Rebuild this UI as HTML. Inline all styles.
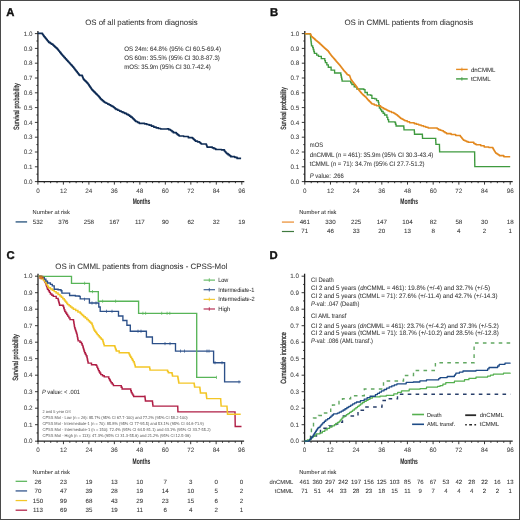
<!DOCTYPE html><html><head><meta charset="utf-8"><style>html,body{margin:0;padding:0;background:#fff;}svg{display:block;will-change:transform;} text{stroke-width:0.05px;text-rendering:geometricPrecision;}</style></head><body>
<svg width="520" height="520" viewBox="0 0 520 520" font-family='"Liberation Sans", sans-serif'>
<rect x="0" y="0" width="520" height="520" fill="#fff"/>
<text x="6.25" y="16.0" font-size="11.3" text-anchor="start" fill="#111" stroke="#111" font-weight="bold" style="stroke-width:0.35px">A</text>
<text x="85.2" y="25.2" font-size="7.8" text-anchor="start" fill="#333" stroke="#333" textLength="112.5" lengthAdjust="spacingAndGlyphs">OS of all patients from diagnosis</text>
<line x1="37.9" y1="31.1" x2="37.9" y2="182.1" stroke="#222" stroke-width="1.3"/>
<line x1="37.4" y1="181.6" x2="244.3" y2="181.6" stroke="#222" stroke-width="1.3"/>
<line x1="34.9" y1="181.60" x2="37.9" y2="181.60" stroke="#222" stroke-width="0.9"/>
<line x1="36.4" y1="174.20" x2="37.9" y2="174.20" stroke="#222" stroke-width="0.9"/>
<text x="32.4" y="183.79999999999998" font-size="6.3" text-anchor="end" fill="#444" stroke="#444">0.0</text>
<line x1="34.9" y1="166.80" x2="37.9" y2="166.80" stroke="#222" stroke-width="0.9"/>
<line x1="36.4" y1="159.40" x2="37.9" y2="159.40" stroke="#222" stroke-width="0.9"/>
<text x="32.4" y="168.99999999999997" font-size="6.3" text-anchor="end" fill="#444" stroke="#444">0.1</text>
<line x1="34.9" y1="152.00" x2="37.9" y2="152.00" stroke="#222" stroke-width="0.9"/>
<line x1="36.4" y1="144.60" x2="37.9" y2="144.60" stroke="#222" stroke-width="0.9"/>
<text x="32.4" y="154.2" font-size="6.3" text-anchor="end" fill="#444" stroke="#444">0.2</text>
<line x1="34.9" y1="137.20" x2="37.9" y2="137.20" stroke="#222" stroke-width="0.9"/>
<line x1="36.4" y1="129.80" x2="37.9" y2="129.80" stroke="#222" stroke-width="0.9"/>
<text x="32.4" y="139.39999999999998" font-size="6.3" text-anchor="end" fill="#444" stroke="#444">0.3</text>
<line x1="34.9" y1="122.40" x2="37.9" y2="122.40" stroke="#222" stroke-width="0.9"/>
<line x1="36.4" y1="115.00" x2="37.9" y2="115.00" stroke="#222" stroke-width="0.9"/>
<text x="32.4" y="124.6" font-size="6.3" text-anchor="end" fill="#444" stroke="#444">0.4</text>
<line x1="34.9" y1="107.60" x2="37.9" y2="107.60" stroke="#222" stroke-width="0.9"/>
<line x1="36.4" y1="100.20" x2="37.9" y2="100.20" stroke="#222" stroke-width="0.9"/>
<text x="32.4" y="109.8" font-size="6.3" text-anchor="end" fill="#444" stroke="#444">0.5</text>
<line x1="34.9" y1="92.80" x2="37.9" y2="92.80" stroke="#222" stroke-width="0.9"/>
<line x1="36.4" y1="85.40" x2="37.9" y2="85.40" stroke="#222" stroke-width="0.9"/>
<text x="32.4" y="94.99999999999999" font-size="6.3" text-anchor="end" fill="#444" stroke="#444">0.6</text>
<line x1="34.9" y1="78.00" x2="37.9" y2="78.00" stroke="#222" stroke-width="0.9"/>
<line x1="36.4" y1="70.60" x2="37.9" y2="70.60" stroke="#222" stroke-width="0.9"/>
<text x="32.4" y="80.19999999999999" font-size="6.3" text-anchor="end" fill="#444" stroke="#444">0.7</text>
<line x1="34.9" y1="63.20" x2="37.9" y2="63.20" stroke="#222" stroke-width="0.9"/>
<line x1="36.4" y1="55.80" x2="37.9" y2="55.80" stroke="#222" stroke-width="0.9"/>
<text x="32.4" y="65.39999999999999" font-size="6.3" text-anchor="end" fill="#444" stroke="#444">0.8</text>
<line x1="34.9" y1="48.40" x2="37.9" y2="48.40" stroke="#222" stroke-width="0.9"/>
<line x1="36.4" y1="41.00" x2="37.9" y2="41.00" stroke="#222" stroke-width="0.9"/>
<text x="32.4" y="50.59999999999998" font-size="6.3" text-anchor="end" fill="#444" stroke="#444">0.9</text>
<line x1="34.9" y1="33.60" x2="37.9" y2="33.60" stroke="#222" stroke-width="0.9"/>
<text x="32.4" y="35.8" font-size="6.3" text-anchor="end" fill="#444" stroke="#444">1.0</text>
<line x1="37.90" y1="181.6" x2="37.90" y2="184.6" stroke="#222" stroke-width="0.9"/>
<text x="37.9" y="192.6" font-size="6.3" text-anchor="middle" fill="#444" stroke="#444">0</text>
<line x1="44.27" y1="181.6" x2="44.27" y2="183.2" stroke="#222" stroke-width="0.9"/>
<line x1="50.64" y1="181.6" x2="50.64" y2="183.2" stroke="#222" stroke-width="0.9"/>
<line x1="57.02" y1="181.6" x2="57.02" y2="183.2" stroke="#222" stroke-width="0.9"/>
<line x1="63.39" y1="181.6" x2="63.39" y2="184.6" stroke="#222" stroke-width="0.9"/>
<text x="63.39" y="192.6" font-size="6.3" text-anchor="middle" fill="#444" stroke="#444">12</text>
<line x1="69.76" y1="181.6" x2="69.76" y2="183.2" stroke="#222" stroke-width="0.9"/>
<line x1="76.13" y1="181.6" x2="76.13" y2="183.2" stroke="#222" stroke-width="0.9"/>
<line x1="82.50" y1="181.6" x2="82.50" y2="183.2" stroke="#222" stroke-width="0.9"/>
<line x1="88.88" y1="181.6" x2="88.88" y2="184.6" stroke="#222" stroke-width="0.9"/>
<text x="88.88" y="192.6" font-size="6.3" text-anchor="middle" fill="#444" stroke="#444">24</text>
<line x1="95.25" y1="181.6" x2="95.25" y2="183.2" stroke="#222" stroke-width="0.9"/>
<line x1="101.62" y1="181.6" x2="101.62" y2="183.2" stroke="#222" stroke-width="0.9"/>
<line x1="107.99" y1="181.6" x2="107.99" y2="183.2" stroke="#222" stroke-width="0.9"/>
<line x1="114.36" y1="181.6" x2="114.36" y2="184.6" stroke="#222" stroke-width="0.9"/>
<text x="114.36" y="192.6" font-size="6.3" text-anchor="middle" fill="#444" stroke="#444">36</text>
<line x1="120.73" y1="181.6" x2="120.73" y2="183.2" stroke="#222" stroke-width="0.9"/>
<line x1="127.11" y1="181.6" x2="127.11" y2="183.2" stroke="#222" stroke-width="0.9"/>
<line x1="133.48" y1="181.6" x2="133.48" y2="183.2" stroke="#222" stroke-width="0.9"/>
<line x1="139.85" y1="181.6" x2="139.85" y2="184.6" stroke="#222" stroke-width="0.9"/>
<text x="139.85" y="192.6" font-size="6.3" text-anchor="middle" fill="#444" stroke="#444">48</text>
<line x1="146.22" y1="181.6" x2="146.22" y2="183.2" stroke="#222" stroke-width="0.9"/>
<line x1="152.59" y1="181.6" x2="152.59" y2="183.2" stroke="#222" stroke-width="0.9"/>
<line x1="158.97" y1="181.6" x2="158.97" y2="183.2" stroke="#222" stroke-width="0.9"/>
<line x1="165.34" y1="181.6" x2="165.34" y2="184.6" stroke="#222" stroke-width="0.9"/>
<text x="165.34" y="192.6" font-size="6.3" text-anchor="middle" fill="#444" stroke="#444">60</text>
<line x1="171.71" y1="181.6" x2="171.71" y2="183.2" stroke="#222" stroke-width="0.9"/>
<line x1="178.08" y1="181.6" x2="178.08" y2="183.2" stroke="#222" stroke-width="0.9"/>
<line x1="184.45" y1="181.6" x2="184.45" y2="183.2" stroke="#222" stroke-width="0.9"/>
<line x1="190.83" y1="181.6" x2="190.83" y2="184.6" stroke="#222" stroke-width="0.9"/>
<text x="190.83" y="192.6" font-size="6.3" text-anchor="middle" fill="#444" stroke="#444">72</text>
<line x1="197.20" y1="181.6" x2="197.20" y2="183.2" stroke="#222" stroke-width="0.9"/>
<line x1="203.57" y1="181.6" x2="203.57" y2="183.2" stroke="#222" stroke-width="0.9"/>
<line x1="209.94" y1="181.6" x2="209.94" y2="183.2" stroke="#222" stroke-width="0.9"/>
<line x1="216.31" y1="181.6" x2="216.31" y2="184.6" stroke="#222" stroke-width="0.9"/>
<text x="216.31" y="192.6" font-size="6.3" text-anchor="middle" fill="#444" stroke="#444">84</text>
<line x1="222.68" y1="181.6" x2="222.68" y2="183.2" stroke="#222" stroke-width="0.9"/>
<line x1="229.06" y1="181.6" x2="229.06" y2="183.2" stroke="#222" stroke-width="0.9"/>
<line x1="235.43" y1="181.6" x2="235.43" y2="183.2" stroke="#222" stroke-width="0.9"/>
<line x1="241.80" y1="181.6" x2="241.80" y2="184.6" stroke="#222" stroke-width="0.9"/>
<text x="241.8" y="192.6" font-size="6.3" text-anchor="middle" fill="#444" stroke="#444">96</text>
<text x="141.45" y="204.2" font-size="8.0" text-anchor="middle" fill="#2a2a2a" stroke="#2a2a2a" font-weight="bold" textLength="17.6" lengthAdjust="spacingAndGlyphs">Months</text>
<text transform="translate(18.6,106.6) rotate(-90)" font-size="7.6" text-anchor="middle" fill="#333" stroke="#333" style="stroke-width:0.3px" textLength="46.7" lengthAdjust="spacingAndGlyphs">Survival probability</text>
<text x="124.2" y="50.5" font-size="6.5" text-anchor="start" fill="#333" stroke="#333" textLength="96.8" lengthAdjust="spacingAndGlyphs">OS 24m: 64.8% (95% CI 60.5-69.4)</text>
<text x="124.2" y="60.0" font-size="6.5" text-anchor="start" fill="#333" stroke="#333" textLength="95.6" lengthAdjust="spacingAndGlyphs">OS 60m: 35.5% (95% CI 30.8-87.3)</text>
<text x="124.2" y="69.3" font-size="6.5" text-anchor="start" fill="#333" stroke="#333" textLength="86.7" lengthAdjust="spacingAndGlyphs">mOS: 35.9m (95% CI 30.7-42.4)</text>
<path d="M37.90,33.40 H42.50 V34.30 H43.07 V35.10 H43.63 V35.90 H44.20 V36.70 H44.97 V37.65 H45.73 V38.60 H46.50 V39.55 H47.27 V40.50 H48.03 V41.45 H48.80 V42.40 H50.17 V43.30 H51.53 V44.20 H52.90 V45.10 H53.82 V45.94 H54.74 V46.78 H55.66 V47.62 H56.58 V48.46 H57.50 V49.30 H58.27 V50.27 H59.03 V51.23 H59.80 V52.20 H60.57 V53.17 H61.33 V54.13 H62.10 V55.10 H62.89 V55.96 H63.68 V56.83 H64.46 V57.69 H65.25 V58.55 H66.04 V59.41 H66.83 V60.27 H67.61 V61.14 H68.40 V62.00 H69.18 V62.87 H69.97 V63.73 H70.75 V64.60 H71.53 V65.47 H72.32 V66.33 H73.10 V67.20 H73.80 V68.10 H74.50 V69.00 H75.20 V69.90 H75.90 V70.80 H76.60 V71.70 H77.30 V72.60 H78.00 V73.50 H78.70 V74.40 H79.40 V75.30 H82.30 V76.40 H82.67 V77.37 H83.03 V78.33 H83.40 V79.30 H84.32 V80.24 H85.24 V81.18 H86.16 V82.12 H87.08 V83.06 H88.00 V84.00 H88.65 V84.97 H89.30 V85.93 H89.95 V86.90 H90.60 V87.87 H91.25 V88.83 H91.90 V89.80 H92.78 V90.67 H93.65 V91.55 H94.53 V92.42 H95.40 V93.30 H96.25 V94.15 H97.10 V95.00 H97.95 V95.85 H98.80 V96.70 H99.57 V97.67 H100.33 V98.63 H101.10 V99.60 H102.27 V100.57 H103.43 V101.53 H104.60 V102.50 H106.13 V103.27 H107.67 V104.03 H109.20 V104.80 H110.57 V105.57 H111.93 V106.33 H113.30 V107.10 H114.23 V107.87 H115.17 V108.63 H116.10 V109.40 H117.85 V110.25 H119.60 V111.10 H121.33 V111.87 H123.07 V112.63 H124.80 V113.40 H126.55 V114.30 H128.30 V115.20 H129.63 V116.17 H130.97 V117.13 H132.30 V118.10 H133.18 V118.95 H134.05 V119.80 H134.93 V120.65 H135.80 V121.50 H137.50 V122.40 H139.20 V123.30 H144.60 V123.80 H146.90 V124.50 H149.20 V125.20 H151.50 V126.15 H153.80 V127.10 H156.15 V127.80 H158.50 V128.50 H160.80 V129.00 H167.10 V128.80 H168.85 V129.65 H170.60 V130.50 H172.00 V131.60 H173.40 V132.70 H176.30 V133.60 H177.27 V134.40 H178.23 V135.20 H179.20 V136.00 H183.80 V136.50 H188.40 V137.70 H192.50 V138.30 H193.47 V139.23 H194.43 V140.17 H195.40 V141.10 H197.50 V141.80 H199.60 V142.50 H200.45 V143.25 H201.30 V144.00 H206.00 H206.37 V145.03 H206.73 V146.07 H207.10 V147.10 H212.30 V147.80 H214.05 V148.65 H215.80 V149.50 H221.50 V149.80 H224.40 V151.00 H225.17 V151.87 H225.93 V152.73 H226.70 V153.60 H228.07 V154.63 H229.43 V155.67 H230.80 V156.70 H234.80 V157.30 H237.10 V158.40 H241.10" fill="none" stroke="#0f2c55" stroke-width="1.7" stroke-linejoin="round"/>
<text x="32.6" y="214.2" font-size="5.7" text-anchor="start" fill="#333" stroke="#333" textLength="37.2" lengthAdjust="spacingAndGlyphs">Number at risk</text>
<line x1="15.6" y1="221.9" x2="27.1" y2="221.9" stroke="#4d7194" stroke-width="1.6"/>
<text x="37.9" y="224.0" font-size="6.2" text-anchor="middle" fill="#333" stroke="#333">532</text>
<text x="63.39" y="224.0" font-size="6.2" text-anchor="middle" fill="#333" stroke="#333">376</text>
<text x="88.88" y="224.0" font-size="6.2" text-anchor="middle" fill="#333" stroke="#333">258</text>
<text x="114.36" y="224.0" font-size="6.2" text-anchor="middle" fill="#333" stroke="#333">167</text>
<text x="139.85" y="224.0" font-size="6.2" text-anchor="middle" fill="#333" stroke="#333">117</text>
<text x="165.34" y="224.0" font-size="6.2" text-anchor="middle" fill="#333" stroke="#333">90</text>
<text x="190.83" y="224.0" font-size="6.2" text-anchor="middle" fill="#333" stroke="#333">62</text>
<text x="216.31" y="224.0" font-size="6.2" text-anchor="middle" fill="#333" stroke="#333">32</text>
<text x="241.8" y="224.0" font-size="6.2" text-anchor="middle" fill="#333" stroke="#333">19</text>
<text x="270.05" y="15.799999999999999" font-size="11.3" text-anchor="start" fill="#111" stroke="#111" font-weight="bold" style="stroke-width:0.35px">B</text>
<text x="344.4" y="25.4" font-size="7.8" text-anchor="start" fill="#333" stroke="#333" textLength="128.8" lengthAdjust="spacingAndGlyphs">OS in CMML patients from diagnosis</text>
<line x1="304.8" y1="31.1" x2="304.8" y2="182.1" stroke="#222" stroke-width="1.3"/>
<line x1="304.3" y1="181.6" x2="512.7" y2="181.6" stroke="#222" stroke-width="1.3"/>
<line x1="301.8" y1="181.60" x2="304.8" y2="181.60" stroke="#222" stroke-width="0.9"/>
<line x1="303.3" y1="174.20" x2="304.8" y2="174.20" stroke="#222" stroke-width="0.9"/>
<text x="299.3" y="183.79999999999998" font-size="6.3" text-anchor="end" fill="#444" stroke="#444">0.0</text>
<line x1="301.8" y1="166.80" x2="304.8" y2="166.80" stroke="#222" stroke-width="0.9"/>
<line x1="303.3" y1="159.40" x2="304.8" y2="159.40" stroke="#222" stroke-width="0.9"/>
<text x="299.3" y="168.99999999999997" font-size="6.3" text-anchor="end" fill="#444" stroke="#444">0.1</text>
<line x1="301.8" y1="152.00" x2="304.8" y2="152.00" stroke="#222" stroke-width="0.9"/>
<line x1="303.3" y1="144.60" x2="304.8" y2="144.60" stroke="#222" stroke-width="0.9"/>
<text x="299.3" y="154.2" font-size="6.3" text-anchor="end" fill="#444" stroke="#444">0.2</text>
<line x1="301.8" y1="137.20" x2="304.8" y2="137.20" stroke="#222" stroke-width="0.9"/>
<line x1="303.3" y1="129.80" x2="304.8" y2="129.80" stroke="#222" stroke-width="0.9"/>
<text x="299.3" y="139.39999999999998" font-size="6.3" text-anchor="end" fill="#444" stroke="#444">0.3</text>
<line x1="301.8" y1="122.40" x2="304.8" y2="122.40" stroke="#222" stroke-width="0.9"/>
<line x1="303.3" y1="115.00" x2="304.8" y2="115.00" stroke="#222" stroke-width="0.9"/>
<text x="299.3" y="124.6" font-size="6.3" text-anchor="end" fill="#444" stroke="#444">0.4</text>
<line x1="301.8" y1="107.60" x2="304.8" y2="107.60" stroke="#222" stroke-width="0.9"/>
<line x1="303.3" y1="100.20" x2="304.8" y2="100.20" stroke="#222" stroke-width="0.9"/>
<text x="299.3" y="109.8" font-size="6.3" text-anchor="end" fill="#444" stroke="#444">0.5</text>
<line x1="301.8" y1="92.80" x2="304.8" y2="92.80" stroke="#222" stroke-width="0.9"/>
<line x1="303.3" y1="85.40" x2="304.8" y2="85.40" stroke="#222" stroke-width="0.9"/>
<text x="299.3" y="94.99999999999999" font-size="6.3" text-anchor="end" fill="#444" stroke="#444">0.6</text>
<line x1="301.8" y1="78.00" x2="304.8" y2="78.00" stroke="#222" stroke-width="0.9"/>
<line x1="303.3" y1="70.60" x2="304.8" y2="70.60" stroke="#222" stroke-width="0.9"/>
<text x="299.3" y="80.19999999999999" font-size="6.3" text-anchor="end" fill="#444" stroke="#444">0.7</text>
<line x1="301.8" y1="63.20" x2="304.8" y2="63.20" stroke="#222" stroke-width="0.9"/>
<line x1="303.3" y1="55.80" x2="304.8" y2="55.80" stroke="#222" stroke-width="0.9"/>
<text x="299.3" y="65.39999999999999" font-size="6.3" text-anchor="end" fill="#444" stroke="#444">0.8</text>
<line x1="301.8" y1="48.40" x2="304.8" y2="48.40" stroke="#222" stroke-width="0.9"/>
<line x1="303.3" y1="41.00" x2="304.8" y2="41.00" stroke="#222" stroke-width="0.9"/>
<text x="299.3" y="50.59999999999998" font-size="6.3" text-anchor="end" fill="#444" stroke="#444">0.9</text>
<line x1="301.8" y1="33.60" x2="304.8" y2="33.60" stroke="#222" stroke-width="0.9"/>
<text x="299.3" y="35.8" font-size="6.3" text-anchor="end" fill="#444" stroke="#444">1.0</text>
<line x1="304.80" y1="181.6" x2="304.80" y2="184.6" stroke="#222" stroke-width="0.9"/>
<text x="304.8" y="192.6" font-size="6.3" text-anchor="middle" fill="#444" stroke="#444">0</text>
<line x1="311.22" y1="181.6" x2="311.22" y2="183.2" stroke="#222" stroke-width="0.9"/>
<line x1="317.64" y1="181.6" x2="317.64" y2="183.2" stroke="#222" stroke-width="0.9"/>
<line x1="324.06" y1="181.6" x2="324.06" y2="183.2" stroke="#222" stroke-width="0.9"/>
<line x1="330.48" y1="181.6" x2="330.48" y2="184.6" stroke="#222" stroke-width="0.9"/>
<text x="330.48" y="192.6" font-size="6.3" text-anchor="middle" fill="#444" stroke="#444">12</text>
<line x1="336.89" y1="181.6" x2="336.89" y2="183.2" stroke="#222" stroke-width="0.9"/>
<line x1="343.31" y1="181.6" x2="343.31" y2="183.2" stroke="#222" stroke-width="0.9"/>
<line x1="349.73" y1="181.6" x2="349.73" y2="183.2" stroke="#222" stroke-width="0.9"/>
<line x1="356.15" y1="181.6" x2="356.15" y2="184.6" stroke="#222" stroke-width="0.9"/>
<text x="356.15" y="192.6" font-size="6.3" text-anchor="middle" fill="#444" stroke="#444">24</text>
<line x1="362.57" y1="181.6" x2="362.57" y2="183.2" stroke="#222" stroke-width="0.9"/>
<line x1="368.99" y1="181.6" x2="368.99" y2="183.2" stroke="#222" stroke-width="0.9"/>
<line x1="375.41" y1="181.6" x2="375.41" y2="183.2" stroke="#222" stroke-width="0.9"/>
<line x1="381.82" y1="181.6" x2="381.82" y2="184.6" stroke="#222" stroke-width="0.9"/>
<text x="381.82" y="192.6" font-size="6.3" text-anchor="middle" fill="#444" stroke="#444">36</text>
<line x1="388.24" y1="181.6" x2="388.24" y2="183.2" stroke="#222" stroke-width="0.9"/>
<line x1="394.66" y1="181.6" x2="394.66" y2="183.2" stroke="#222" stroke-width="0.9"/>
<line x1="401.08" y1="181.6" x2="401.08" y2="183.2" stroke="#222" stroke-width="0.9"/>
<line x1="407.50" y1="181.6" x2="407.50" y2="184.6" stroke="#222" stroke-width="0.9"/>
<text x="407.5" y="192.6" font-size="6.3" text-anchor="middle" fill="#444" stroke="#444">48</text>
<line x1="413.92" y1="181.6" x2="413.92" y2="183.2" stroke="#222" stroke-width="0.9"/>
<line x1="420.34" y1="181.6" x2="420.34" y2="183.2" stroke="#222" stroke-width="0.9"/>
<line x1="426.76" y1="181.6" x2="426.76" y2="183.2" stroke="#222" stroke-width="0.9"/>
<line x1="433.18" y1="181.6" x2="433.18" y2="184.6" stroke="#222" stroke-width="0.9"/>
<text x="433.18" y="192.6" font-size="6.3" text-anchor="middle" fill="#444" stroke="#444">60</text>
<line x1="439.59" y1="181.6" x2="439.59" y2="183.2" stroke="#222" stroke-width="0.9"/>
<line x1="446.01" y1="181.6" x2="446.01" y2="183.2" stroke="#222" stroke-width="0.9"/>
<line x1="452.43" y1="181.6" x2="452.43" y2="183.2" stroke="#222" stroke-width="0.9"/>
<line x1="458.85" y1="181.6" x2="458.85" y2="184.6" stroke="#222" stroke-width="0.9"/>
<text x="458.85" y="192.6" font-size="6.3" text-anchor="middle" fill="#444" stroke="#444">72</text>
<line x1="465.27" y1="181.6" x2="465.27" y2="183.2" stroke="#222" stroke-width="0.9"/>
<line x1="471.69" y1="181.6" x2="471.69" y2="183.2" stroke="#222" stroke-width="0.9"/>
<line x1="478.11" y1="181.6" x2="478.11" y2="183.2" stroke="#222" stroke-width="0.9"/>
<line x1="484.52" y1="181.6" x2="484.52" y2="184.6" stroke="#222" stroke-width="0.9"/>
<text x="484.52" y="192.6" font-size="6.3" text-anchor="middle" fill="#444" stroke="#444">84</text>
<line x1="490.94" y1="181.6" x2="490.94" y2="183.2" stroke="#222" stroke-width="0.9"/>
<line x1="497.36" y1="181.6" x2="497.36" y2="183.2" stroke="#222" stroke-width="0.9"/>
<line x1="503.78" y1="181.6" x2="503.78" y2="183.2" stroke="#222" stroke-width="0.9"/>
<line x1="510.20" y1="181.6" x2="510.20" y2="184.6" stroke="#222" stroke-width="0.9"/>
<text x="510.2" y="192.6" font-size="6.3" text-anchor="middle" fill="#444" stroke="#444">96</text>
<text x="409.1" y="204.2" font-size="8.0" text-anchor="middle" fill="#2a2a2a" stroke="#2a2a2a" font-weight="bold" textLength="17.6" lengthAdjust="spacingAndGlyphs">Months</text>
<text transform="translate(285.6,108.5) rotate(-90)" font-size="7.6" text-anchor="middle" fill="#333" stroke="#333" style="stroke-width:0.3px" textLength="42.3" lengthAdjust="spacingAndGlyphs">Survival probability</text>
<path d="M304.80,33.80 H310.40 V34.50 H310.50 V36.15 H310.60 V37.80 H310.83 V39.82 H311.05 V41.85 H311.27 V43.88 H311.50 V45.90 H312.70 V47.60 H313.27 V49.53 H313.83 V51.47 H314.40 V53.40 H316.70 V55.10 H318.50 V56.30 H321.30 V58.60 H324.20 H324.80 V60.60 H325.40 V62.60 H326.85 V64.90 H328.30 V67.20 H331.10 V70.10 H334.60 V73.00 H340.40 H340.82 V75.03 H341.25 V77.05 H341.68 V79.07 H342.10 V81.10 H349.60 H350.75 V82.80 H351.90 V84.50 H354.20 V86.80 H356.30 V87.30 H356.90 V89.00 H363.80 V89.60 H365.00 V92.50 H367.30 V94.80 H370.80 V95.40 H371.90 V98.30 H374.80 V98.80 H376.55 V100.55 H378.30 V102.30 H378.80 V104.60 H379.10 V106.35 H379.40 V108.10 H380.55 V109.80 H381.70 V111.50 H383.15 V113.25 H384.60 V115.00 H386.90 V117.30 H387.75 V119.60 H388.60 V121.90 H395.00 V122.50 H395.55 V124.25 H396.10 V126.00 H403.60 H403.80 V127.90 H404.00 V129.80 H414.20 H414.35 V132.00 H414.50 V134.20 H422.30 H422.40 V136.25 H422.50 V138.30 H435.60 H435.70 V140.30 H435.80 V142.30 H435.90 V144.30 H439.40 H439.45 V146.18 H439.50 V148.05 H439.55 V149.93 H439.60 V151.80 H474.60 H474.63 V153.91 H474.66 V156.03 H474.69 V158.14 H474.71 V160.26 H474.74 V162.37 H474.77 V164.49 H474.80 V166.60 H510.20" fill="none" stroke="#3f9a3f" stroke-width="1.35"/>
<path d="M304.80,33.80 H310.40 V34.30 H310.77 V35.10 H311.13 V35.90 H311.50 V36.70 H312.42 V37.50 H313.34 V38.30 H314.26 V39.10 H315.18 V39.90 H316.10 V40.70 H317.04 V41.50 H317.98 V42.30 H318.92 V43.10 H319.86 V43.90 H320.80 V44.70 H321.60 V45.46 H322.40 V46.22 H323.20 V46.98 H324.00 V47.74 H324.80 V48.50 H325.68 V49.27 H326.55 V50.05 H327.43 V50.83 H328.30 V51.60 H328.87 V52.38 H329.43 V53.17 H330.00 V53.95 H330.57 V54.73 H331.13 V55.52 H331.70 V56.30 H332.38 V57.07 H333.07 V57.83 H333.75 V58.60 H334.43 V59.37 H335.12 V60.13 H335.80 V60.90 H336.47 V61.67 H337.13 V62.43 H337.80 V63.20 H338.47 V63.97 H339.13 V64.73 H339.80 V65.50 H340.37 V66.24 H340.94 V66.99 H341.51 V67.73 H342.09 V68.47 H342.66 V69.21 H343.23 V69.96 H343.80 V70.70 H344.50 V71.50 H345.20 V72.30 H345.90 V73.10 H346.60 V73.90 H347.30 V74.70 H348.45 V75.30 H349.60 V75.90 H349.88 V76.75 H350.15 V77.60 H350.43 V78.45 H350.70 V79.30 H351.23 V80.03 H351.77 V80.77 H352.30 V81.50 H352.88 V82.27 H353.47 V83.03 H354.05 V83.80 H354.63 V84.57 H355.22 V85.33 H355.80 V86.10 H356.37 V86.88 H356.93 V87.67 H357.50 V88.45 H358.07 V89.23 H358.63 V90.02 H359.20 V90.80 H359.90 V91.60 H360.60 V92.40 H361.30 V93.20 H362.00 V94.00 H362.70 V94.80 H363.55 V95.53 H364.40 V96.25 H365.25 V96.97 H366.10 V97.70 H366.70 V98.42 H367.30 V99.15 H367.90 V99.88 H368.50 V100.60 H369.35 V101.45 H370.20 V102.30 H371.05 V103.15 H371.90 V104.00 H374.20 V104.90 H376.50 V105.80 H380.60 V106.90 H382.00 V107.75 H383.40 V108.60 H384.85 V109.32 H386.30 V110.05 H387.75 V110.78 H389.20 V111.50 H391.50 V112.40 H393.80 V113.30 H394.97 V114.07 H396.13 V114.83 H397.30 V115.60 H398.15 V116.30 H399.00 V117.00 H399.85 V117.70 H400.70 V118.40 H402.07 V119.17 H403.43 V119.93 H404.80 V120.70 H407.20 V121.70 H409.60 V122.70 H414.20 V123.60 H416.50 V124.30 H418.80 V125.00 H421.15 V125.75 H423.50 V126.50 H425.80 V127.20 H428.10 V127.90 H436.10 H437.25 V128.75 H438.40 V129.60 H440.15 V130.20 H441.90 V130.80 H443.43 V131.73 H444.97 V132.67 H446.50 V133.60 H451.10 V134.50 H455.70 V135.40 H460.40 V136.50 H461.02 V137.24 H461.64 V137.98 H462.26 V138.72 H462.88 V139.46 H463.50 V140.20 H465.03 V140.90 H466.57 V141.60 H468.10 V142.30 H473.80 V143.40 H474.95 V144.10 H476.10 V144.80 H480.80 V145.80 H484.20 V146.90 H488.80 V147.50 H492.90 V148.60 H493.38 V149.38 H493.87 V150.17 H494.35 V150.95 H494.83 V151.73 H495.32 V152.52 H495.80 V153.30 H496.93 V154.07 H498.07 V154.83 H499.20 V155.60 H503.80 V156.70 H510.20" fill="none" stroke="#e3891f" stroke-width="1.55" stroke-linejoin="round"/>
<line x1="456.1" y1="69.4" x2="467.7" y2="69.4" stroke="#e68a1f" stroke-width="1.4"/><line x1="461.9" y1="67.6" x2="461.9" y2="71.2" stroke="#e68a1f" stroke-width="0.8"/>
<line x1="456.1" y1="78.9" x2="467.7" y2="78.9" stroke="#3f9a3f" stroke-width="1.4"/><line x1="461.9" y1="77.1" x2="461.9" y2="80.7" stroke="#3f9a3f" stroke-width="0.8"/>
<text x="470.9" y="71.7" font-size="6.1" text-anchor="start" fill="#333" stroke="#333" textLength="24.5" lengthAdjust="spacingAndGlyphs">dnCMML</text>
<text x="470.9" y="81.1" font-size="6.1" text-anchor="start" fill="#333" stroke="#333" textLength="19.8" lengthAdjust="spacingAndGlyphs">tCMML</text>
<text x="309.8" y="147.4" font-size="6.5" text-anchor="start" fill="#333" stroke="#333" textLength="13.3" lengthAdjust="spacingAndGlyphs">mOS</text>
<text x="309.8" y="157.1" font-size="6.5" fill="#333" stroke="#333" textLength="123.5" lengthAdjust="spacingAndGlyphs">dnCMML (<tspan font-style="italic">n</tspan> = 461): 35.9m (95% CI 30.3-43.4)</text>
<text x="309.8" y="165.8" font-size="6.5" fill="#333" stroke="#333" textLength="114.8" lengthAdjust="spacingAndGlyphs">tCMML (<tspan font-style="italic">n</tspan> = 71): 34.7m (95% CI 27.7-51.2)</text>
<text x="309.8" y="178.4" font-size="6.5" fill="#333" stroke="#333" textLength="34" lengthAdjust="spacingAndGlyphs"><tspan font-style="italic">P</tspan> value: .266</text>
<text x="299.2" y="214.2" font-size="5.7" text-anchor="start" fill="#333" stroke="#333" textLength="37.2" lengthAdjust="spacingAndGlyphs">Number at risk</text>
<line x1="281.9" y1="222.1" x2="294" y2="222.1" stroke="#f0a860" stroke-width="1.6"/>
<line x1="281.9" y1="231.5" x2="294" y2="231.5" stroke="#3f7a3f" stroke-width="1.2"/>
<text x="304.8" y="224.1" font-size="6.2" text-anchor="middle" fill="#333" stroke="#333">461</text>
<text x="304.8" y="233.4" font-size="6.2" text-anchor="middle" fill="#333" stroke="#333">71</text>
<text x="330.48" y="224.1" font-size="6.2" text-anchor="middle" fill="#333" stroke="#333">330</text>
<text x="330.48" y="233.4" font-size="6.2" text-anchor="middle" fill="#333" stroke="#333">46</text>
<text x="356.15" y="224.1" font-size="6.2" text-anchor="middle" fill="#333" stroke="#333">225</text>
<text x="356.15" y="233.4" font-size="6.2" text-anchor="middle" fill="#333" stroke="#333">33</text>
<text x="381.82" y="224.1" font-size="6.2" text-anchor="middle" fill="#333" stroke="#333">147</text>
<text x="381.82" y="233.4" font-size="6.2" text-anchor="middle" fill="#333" stroke="#333">20</text>
<text x="407.5" y="224.1" font-size="6.2" text-anchor="middle" fill="#333" stroke="#333">104</text>
<text x="407.5" y="233.4" font-size="6.2" text-anchor="middle" fill="#333" stroke="#333">13</text>
<text x="433.18" y="224.1" font-size="6.2" text-anchor="middle" fill="#333" stroke="#333">82</text>
<text x="433.18" y="233.4" font-size="6.2" text-anchor="middle" fill="#333" stroke="#333">8</text>
<text x="458.85" y="224.1" font-size="6.2" text-anchor="middle" fill="#333" stroke="#333">58</text>
<text x="458.85" y="233.4" font-size="6.2" text-anchor="middle" fill="#333" stroke="#333">4</text>
<text x="484.52" y="224.1" font-size="6.2" text-anchor="middle" fill="#333" stroke="#333">30</text>
<text x="484.52" y="233.4" font-size="6.2" text-anchor="middle" fill="#333" stroke="#333">2</text>
<text x="510.2" y="224.1" font-size="6.2" text-anchor="middle" fill="#333" stroke="#333">18</text>
<text x="510.2" y="233.4" font-size="6.2" text-anchor="middle" fill="#333" stroke="#333">1</text>
<text x="6.449999999999999" y="259.0" font-size="11.3" text-anchor="start" fill="#111" stroke="#111" font-weight="bold" style="stroke-width:0.35px">C</text>
<text x="55.3" y="268.5" font-size="7.8" text-anchor="start" fill="#333" stroke="#333" textLength="172" lengthAdjust="spacingAndGlyphs">OS in CMML patients from diagnosis - CPSS-Mol</text>
<line x1="38.0" y1="273.7" x2="38.0" y2="441.7" stroke="#222" stroke-width="1.3"/>
<line x1="37.5" y1="441.2" x2="244.1" y2="441.2" stroke="#222" stroke-width="1.3"/>
<line x1="35.0" y1="441.20" x2="38.0" y2="441.20" stroke="#222" stroke-width="0.9"/>
<line x1="36.5" y1="432.95" x2="38.0" y2="432.95" stroke="#222" stroke-width="0.9"/>
<text x="32.5" y="443.4" font-size="6.3" text-anchor="end" fill="#444" stroke="#444">0.0</text>
<line x1="35.0" y1="424.70" x2="38.0" y2="424.70" stroke="#222" stroke-width="0.9"/>
<line x1="36.5" y1="416.45" x2="38.0" y2="416.45" stroke="#222" stroke-width="0.9"/>
<text x="32.5" y="426.9" font-size="6.3" text-anchor="end" fill="#444" stroke="#444">0.1</text>
<line x1="35.0" y1="408.20" x2="38.0" y2="408.20" stroke="#222" stroke-width="0.9"/>
<line x1="36.5" y1="399.95" x2="38.0" y2="399.95" stroke="#222" stroke-width="0.9"/>
<text x="32.5" y="410.4" font-size="6.3" text-anchor="end" fill="#444" stroke="#444">0.2</text>
<line x1="35.0" y1="391.70" x2="38.0" y2="391.70" stroke="#222" stroke-width="0.9"/>
<line x1="36.5" y1="383.45" x2="38.0" y2="383.45" stroke="#222" stroke-width="0.9"/>
<text x="32.5" y="393.9" font-size="6.3" text-anchor="end" fill="#444" stroke="#444">0.3</text>
<line x1="35.0" y1="375.20" x2="38.0" y2="375.20" stroke="#222" stroke-width="0.9"/>
<line x1="36.5" y1="366.95" x2="38.0" y2="366.95" stroke="#222" stroke-width="0.9"/>
<text x="32.5" y="377.4" font-size="6.3" text-anchor="end" fill="#444" stroke="#444">0.4</text>
<line x1="35.0" y1="358.70" x2="38.0" y2="358.70" stroke="#222" stroke-width="0.9"/>
<line x1="36.5" y1="350.45" x2="38.0" y2="350.45" stroke="#222" stroke-width="0.9"/>
<text x="32.5" y="360.9" font-size="6.3" text-anchor="end" fill="#444" stroke="#444">0.5</text>
<line x1="35.0" y1="342.20" x2="38.0" y2="342.20" stroke="#222" stroke-width="0.9"/>
<line x1="36.5" y1="333.95" x2="38.0" y2="333.95" stroke="#222" stroke-width="0.9"/>
<text x="32.5" y="344.4" font-size="6.3" text-anchor="end" fill="#444" stroke="#444">0.6</text>
<line x1="35.0" y1="325.70" x2="38.0" y2="325.70" stroke="#222" stroke-width="0.9"/>
<line x1="36.5" y1="317.45" x2="38.0" y2="317.45" stroke="#222" stroke-width="0.9"/>
<text x="32.5" y="327.9" font-size="6.3" text-anchor="end" fill="#444" stroke="#444">0.7</text>
<line x1="35.0" y1="309.20" x2="38.0" y2="309.20" stroke="#222" stroke-width="0.9"/>
<line x1="36.5" y1="300.95" x2="38.0" y2="300.95" stroke="#222" stroke-width="0.9"/>
<text x="32.5" y="311.4" font-size="6.3" text-anchor="end" fill="#444" stroke="#444">0.8</text>
<line x1="35.0" y1="292.70" x2="38.0" y2="292.70" stroke="#222" stroke-width="0.9"/>
<line x1="36.5" y1="284.45" x2="38.0" y2="284.45" stroke="#222" stroke-width="0.9"/>
<text x="32.5" y="294.9" font-size="6.3" text-anchor="end" fill="#444" stroke="#444">0.9</text>
<line x1="35.0" y1="276.20" x2="38.0" y2="276.20" stroke="#222" stroke-width="0.9"/>
<text x="32.5" y="278.4" font-size="6.3" text-anchor="end" fill="#444" stroke="#444">1.0</text>
<line x1="38.00" y1="441.2" x2="38.00" y2="444.2" stroke="#222" stroke-width="0.9"/>
<text x="38.0" y="452.2" font-size="6.3" text-anchor="middle" fill="#444" stroke="#444">0</text>
<line x1="44.36" y1="441.2" x2="44.36" y2="442.8" stroke="#222" stroke-width="0.9"/>
<line x1="50.73" y1="441.2" x2="50.73" y2="442.8" stroke="#222" stroke-width="0.9"/>
<line x1="57.09" y1="441.2" x2="57.09" y2="442.8" stroke="#222" stroke-width="0.9"/>
<line x1="63.45" y1="441.2" x2="63.45" y2="444.2" stroke="#222" stroke-width="0.9"/>
<text x="63.45" y="452.2" font-size="6.3" text-anchor="middle" fill="#444" stroke="#444">12</text>
<line x1="69.81" y1="441.2" x2="69.81" y2="442.8" stroke="#222" stroke-width="0.9"/>
<line x1="76.17" y1="441.2" x2="76.17" y2="442.8" stroke="#222" stroke-width="0.9"/>
<line x1="82.54" y1="441.2" x2="82.54" y2="442.8" stroke="#222" stroke-width="0.9"/>
<line x1="88.90" y1="441.2" x2="88.90" y2="444.2" stroke="#222" stroke-width="0.9"/>
<text x="88.9" y="452.2" font-size="6.3" text-anchor="middle" fill="#444" stroke="#444">24</text>
<line x1="95.26" y1="441.2" x2="95.26" y2="442.8" stroke="#222" stroke-width="0.9"/>
<line x1="101.62" y1="441.2" x2="101.62" y2="442.8" stroke="#222" stroke-width="0.9"/>
<line x1="107.99" y1="441.2" x2="107.99" y2="442.8" stroke="#222" stroke-width="0.9"/>
<line x1="114.35" y1="441.2" x2="114.35" y2="444.2" stroke="#222" stroke-width="0.9"/>
<text x="114.35" y="452.2" font-size="6.3" text-anchor="middle" fill="#444" stroke="#444">36</text>
<line x1="120.71" y1="441.2" x2="120.71" y2="442.8" stroke="#222" stroke-width="0.9"/>
<line x1="127.08" y1="441.2" x2="127.08" y2="442.8" stroke="#222" stroke-width="0.9"/>
<line x1="133.44" y1="441.2" x2="133.44" y2="442.8" stroke="#222" stroke-width="0.9"/>
<line x1="139.80" y1="441.2" x2="139.80" y2="444.2" stroke="#222" stroke-width="0.9"/>
<text x="139.8" y="452.2" font-size="6.3" text-anchor="middle" fill="#444" stroke="#444">48</text>
<line x1="146.16" y1="441.2" x2="146.16" y2="442.8" stroke="#222" stroke-width="0.9"/>
<line x1="152.52" y1="441.2" x2="152.52" y2="442.8" stroke="#222" stroke-width="0.9"/>
<line x1="158.89" y1="441.2" x2="158.89" y2="442.8" stroke="#222" stroke-width="0.9"/>
<line x1="165.25" y1="441.2" x2="165.25" y2="444.2" stroke="#222" stroke-width="0.9"/>
<text x="165.25" y="452.2" font-size="6.3" text-anchor="middle" fill="#444" stroke="#444">60</text>
<line x1="171.61" y1="441.2" x2="171.61" y2="442.8" stroke="#222" stroke-width="0.9"/>
<line x1="177.97" y1="441.2" x2="177.97" y2="442.8" stroke="#222" stroke-width="0.9"/>
<line x1="184.34" y1="441.2" x2="184.34" y2="442.8" stroke="#222" stroke-width="0.9"/>
<line x1="190.70" y1="441.2" x2="190.70" y2="444.2" stroke="#222" stroke-width="0.9"/>
<text x="190.7" y="452.2" font-size="6.3" text-anchor="middle" fill="#444" stroke="#444">72</text>
<line x1="197.06" y1="441.2" x2="197.06" y2="442.8" stroke="#222" stroke-width="0.9"/>
<line x1="203.42" y1="441.2" x2="203.42" y2="442.8" stroke="#222" stroke-width="0.9"/>
<line x1="209.79" y1="441.2" x2="209.79" y2="442.8" stroke="#222" stroke-width="0.9"/>
<line x1="216.15" y1="441.2" x2="216.15" y2="444.2" stroke="#222" stroke-width="0.9"/>
<text x="216.15" y="452.2" font-size="6.3" text-anchor="middle" fill="#444" stroke="#444">84</text>
<line x1="222.51" y1="441.2" x2="222.51" y2="442.8" stroke="#222" stroke-width="0.9"/>
<line x1="228.88" y1="441.2" x2="228.88" y2="442.8" stroke="#222" stroke-width="0.9"/>
<line x1="235.24" y1="441.2" x2="235.24" y2="442.8" stroke="#222" stroke-width="0.9"/>
<line x1="241.60" y1="441.2" x2="241.60" y2="444.2" stroke="#222" stroke-width="0.9"/>
<text x="241.6" y="452.2" font-size="6.3" text-anchor="middle" fill="#444" stroke="#444">96</text>
<text x="141.4" y="463.8" font-size="8.0" text-anchor="middle" fill="#2a2a2a" stroke="#2a2a2a" font-weight="bold" textLength="17.6" lengthAdjust="spacingAndGlyphs">Months</text>
<text transform="translate(18.1,357.5) rotate(-90)" font-size="7.6" text-anchor="middle" fill="#333" stroke="#333" style="stroke-width:0.3px" textLength="46.7" lengthAdjust="spacingAndGlyphs">Survival probability</text>
<path d="M38.40,276.30 H40.80 V276.70 H42.25 V278.15 H43.70 V279.60 H44.33 V280.90 H44.97 V282.20 H45.60 V283.50 H46.08 V284.93 H46.55 V286.35 H47.02 V287.77 H47.50 V289.20 H48.47 V290.80 H49.43 V292.40 H50.40 V294.00 H51.85 V295.20 H53.30 V296.40 H56.20 V298.40 H58.10 V299.80 H58.48 V301.15 H58.85 V302.50 H59.23 V303.85 H59.60 V305.20 H63.10 V306.30 H63.67 V308.03 H64.23 V309.77 H64.80 V311.50 H65.77 V313.03 H66.73 V314.57 H67.70 V316.10 H68.85 V317.85 H70.00 V319.60 H73.40 V320.20 H73.64 V321.70 H73.88 V323.20 H74.12 V324.70 H74.36 V326.20 H74.60 V327.70 H75.06 V329.08 H75.52 V330.46 H75.98 V331.84 H76.44 V333.22 H76.90 V334.60 H77.20 V336.18 H77.50 V337.75 H77.80 V339.32 H78.10 V340.90 H80.00 V342.20 H81.50 V343.80 H82.20 V345.40 H82.90 V347.00 H83.33 V348.43 H83.75 V349.85 H84.17 V351.27 H84.60 V352.70 H85.37 V354.23 H86.13 V355.77 H86.90 V357.30 H87.20 V358.75 H87.50 V360.20 H87.80 V361.65 H88.10 V363.10 H91.50 V364.80 H96.10 V365.40 H96.90 V367.13 H97.70 V368.87 H98.50 V370.60 H99.27 V371.93 H100.03 V373.27 H100.80 V374.60 H102.50 V375.75 H104.20 V376.90 H108.80 V378.60 H109.57 V379.97 H110.33 V381.33 H111.10 V382.70 H112.25 V384.15 H113.40 V385.60 H120.40 H121.25 V387.30 H122.10 V389.00 H130.20 H130.75 V390.75 H131.30 V392.50 H132.07 V393.83 H132.83 V395.17 H133.60 V396.50 H144.80 V396.30 H145.00 V397.87 H145.20 V399.43 H145.40 V401.00 H152.30 H152.50 V402.70 H152.70 V404.40 H152.90 V406.10 H177.70 H177.75 V407.55 H177.80 V409.00 H177.85 V410.45 H177.90 V411.90 H235.00 H235.02 V413.36 H235.04 V414.82 H235.06 V416.28 H235.08 V417.74 H235.10 V419.20 H235.12 V420.66 H235.14 V422.12 H235.16 V423.58 H235.18 V425.04 H235.20 V426.50 H241.50" fill="none" stroke="#b01e45" stroke-width="1.4"/>
<path d="M38.40,276.30 H40.80 V277.70 H42.07 V278.83 H43.33 V279.97 H44.60 V281.10 H45.38 V282.44 H46.16 V283.78 H46.94 V285.12 H47.72 V286.46 H48.50 V287.80 H50.40 V289.07 H52.30 V290.33 H54.20 V291.60 H56.13 V293.07 H58.07 V294.53 H60.00 V296.00 H61.40 V297.33 H62.80 V298.67 H64.20 V300.00 H65.08 V301.15 H65.95 V302.30 H66.83 V303.45 H67.70 V304.60 H69.12 V305.75 H70.55 V306.90 H71.98 V308.05 H73.40 V309.20 H75.67 V310.57 H77.93 V311.93 H80.20 V313.30 H81.40 V314.43 H82.60 V315.57 H83.80 V316.70 H85.33 V318.07 H86.87 V319.43 H88.40 V320.80 H89.57 V321.93 H90.73 V323.07 H91.90 V324.20 H92.43 V325.65 H92.95 V327.10 H93.47 V328.55 H94.00 V330.00 H94.83 V331.15 H95.65 V332.30 H96.47 V333.45 H97.30 V334.60 H98.30 V335.75 H99.30 V336.90 H100.30 V338.05 H101.30 V339.20 H102.50 V340.00 H102.92 V341.45 H103.35 V342.90 H103.78 V344.35 H104.20 V345.80 H114.60 V346.30 H115.02 V347.48 H115.45 V348.65 H115.88 V349.82 H116.30 V351.00 H119.20 V352.70 H128.40 H128.97 V353.85 H129.55 V355.00 H130.12 V356.15 H130.70 V357.30 H131.57 V358.75 H132.45 V360.20 H133.32 V361.65 H134.20 V363.10 H134.57 V364.37 H134.93 V365.63 H135.30 V366.90 H149.40 V367.10 H149.70 V368.60 H150.00 V370.10 H166.70 H167.55 V371.40 H168.40 V372.70 H171.90 V373.30 H172.20 V374.70 H172.50 V376.10 H177.70 V376.70 H177.92 V377.98 H178.14 V379.26 H178.36 V380.54 H178.58 V381.82 H178.80 V383.10 H194.00 V383.30 H194.20 V384.57 H194.40 V385.83 H194.60 V387.10 H199.80 V387.70 H199.95 V389.00 H200.10 V390.30 H200.25 V391.60 H200.40 V392.90 H206.10 V393.40 H206.25 V394.70 H206.40 V396.00 H206.55 V397.30 H206.70 V398.60 H220.60 H220.68 V399.85 H220.77 V401.10 H220.85 V402.35 H220.93 V403.60 H221.02 V404.85 H221.10 V406.10 H226.90 H227.00 V407.45 H227.10 V408.80 H227.20 V410.15 H227.30 V411.50 H227.40 V412.85 H227.50 V414.20 H240.70" fill="none" stroke="#f3c626" stroke-width="1.45"/>
<path d="M38.40,276.30 H42.70 V277.20 H44.30 V279.13 H45.90 V281.07 H47.50 V283.00 H50.40 V284.40 H52.30 V285.90 H54.20 V289.20 H58.10 V289.70 H61.00 V290.70 H61.90 V293.10 H67.70 H69.60 V295.50 H75.40 V296.00 H79.20 V296.40 H80.20 V298.80 H89.4 V303.0 H98.8 V307 H100.2 V311.3 H118.5 V316 H122.9 V320.5 H126.9 V325.2 H130.3 V331.2 H146.4 V337 H152.4 V343.6 H175.5 V351.1 H213.6 V362.7 H224.6 V381.9 H240.7" fill="none" stroke="#2c5089" stroke-width="1.35"/>
<path d="M38.4,276.3 H71.5 V283.3 H89.4 V291.6 H98.3 V301.2 H138.6 V313.3 H196.7 V377.4 H216.5" fill="none" stroke="#58b558" stroke-width="1.35"/>
<ellipse cx="41.2" cy="277.6" rx="2.6" ry="2.0" fill="#d0601e" opacity="0.75"/>
<line x1="84.6" y1="281.7" x2="84.6" y2="284.90000000000003" stroke="#58b558" stroke-width="0.7"/>
<line x1="92.5" y1="290.0" x2="92.5" y2="293.20000000000005" stroke="#58b558" stroke-width="0.7"/>
<line x1="102.6" y1="299.59999999999997" x2="102.6" y2="302.8" stroke="#58b558" stroke-width="0.7"/>
<line x1="115.6" y1="299.59999999999997" x2="115.6" y2="302.8" stroke="#58b558" stroke-width="0.7"/>
<line x1="142.9" y1="311.7" x2="142.9" y2="314.90000000000003" stroke="#58b558" stroke-width="0.7"/>
<line x1="145.6" y1="311.7" x2="145.6" y2="314.90000000000003" stroke="#58b558" stroke-width="0.7"/>
<line x1="161.7" y1="311.7" x2="161.7" y2="314.90000000000003" stroke="#58b558" stroke-width="0.7"/>
<line x1="167.1" y1="311.7" x2="167.1" y2="314.90000000000003" stroke="#58b558" stroke-width="0.7"/>
<line x1="169.8" y1="311.7" x2="169.8" y2="314.90000000000003" stroke="#58b558" stroke-width="0.7"/>
<line x1="216.5" y1="375.79999999999995" x2="216.5" y2="379.0" stroke="#58b558" stroke-width="0.7"/>
<line x1="84.5" y1="297.7" x2="84.5" y2="300.90000000000003" stroke="#2c5089" stroke-width="0.7"/>
<line x1="92" y1="301.4" x2="92" y2="304.6" stroke="#2c5089" stroke-width="0.7"/>
<line x1="96" y1="301.4" x2="96" y2="304.6" stroke="#2c5089" stroke-width="0.7"/>
<line x1="106.5" y1="309.7" x2="106.5" y2="312.90000000000003" stroke="#2c5089" stroke-width="0.7"/>
<line x1="112" y1="309.7" x2="112" y2="312.90000000000003" stroke="#2c5089" stroke-width="0.7"/>
<line x1="138" y1="329.59999999999997" x2="138" y2="332.8" stroke="#2c5089" stroke-width="0.7"/>
<line x1="141" y1="329.59999999999997" x2="141" y2="332.8" stroke="#2c5089" stroke-width="0.7"/>
<line x1="165" y1="342.0" x2="165" y2="345.20000000000005" stroke="#2c5089" stroke-width="0.7"/>
<line x1="170" y1="342.0" x2="170" y2="345.20000000000005" stroke="#2c5089" stroke-width="0.7"/>
<line x1="180.5" y1="349.5" x2="180.5" y2="352.70000000000005" stroke="#2c5089" stroke-width="0.7"/>
<line x1="184.5" y1="349.5" x2="184.5" y2="352.70000000000005" stroke="#2c5089" stroke-width="0.7"/>
<line x1="207" y1="349.5" x2="207" y2="352.70000000000005" stroke="#2c5089" stroke-width="0.7"/>
<line x1="209" y1="349.5" x2="209" y2="352.70000000000005" stroke="#2c5089" stroke-width="0.7"/>
<line x1="215" y1="361.09999999999997" x2="215" y2="364.3" stroke="#2c5089" stroke-width="0.7"/>
<line x1="222" y1="361.09999999999997" x2="222" y2="364.3" stroke="#2c5089" stroke-width="0.7"/>
<line x1="239" y1="380.29999999999995" x2="239" y2="383.5" stroke="#2c5089" stroke-width="0.7"/>
<line x1="203.6" y1="280.10" x2="215" y2="280.10" stroke="#58b558" stroke-width="1.1"/><line x1="209.3" y1="278.30" x2="209.3" y2="281.90" stroke="#58b558" stroke-width="0.8"/>
<text x="218.2" y="282.1" font-size="6.2" text-anchor="start" fill="#333" stroke="#333" textLength="10.1" lengthAdjust="spacingAndGlyphs">Low</text>
<line x1="203.6" y1="289.73" x2="215" y2="289.73" stroke="#2c5089" stroke-width="1.1"/><line x1="209.3" y1="287.93" x2="209.3" y2="291.53" stroke="#2c5089" stroke-width="0.8"/>
<text x="218.2" y="291.73" font-size="6.2" text-anchor="start" fill="#333" stroke="#333" textLength="36.2" lengthAdjust="spacingAndGlyphs">Intermediate-1</text>
<line x1="203.6" y1="299.36" x2="215" y2="299.36" stroke="#f3c626" stroke-width="1.1"/><line x1="209.3" y1="297.56" x2="209.3" y2="301.16" stroke="#f3c626" stroke-width="0.8"/>
<text x="218.2" y="301.36" font-size="6.2" text-anchor="start" fill="#333" stroke="#333" textLength="36.5" lengthAdjust="spacingAndGlyphs">Intermediate-2</text>
<line x1="203.6" y1="308.99" x2="215" y2="308.99" stroke="#b01e45" stroke-width="1.1"/><line x1="209.3" y1="307.19" x2="209.3" y2="310.79" stroke="#b01e45" stroke-width="0.8"/>
<text x="218.2" y="310.99" font-size="6.2" text-anchor="start" fill="#333" stroke="#333" textLength="12.0" lengthAdjust="spacingAndGlyphs">High</text>
<g transform="translate(42.5,413.1) scale(0.3333)"><text x="0" y="0" font-size="12.0" text-anchor="start" fill="#555" stroke="none" textLength="84.9" lengthAdjust="spacingAndGlyphs">2 and 5 year OS</text></g>
<g transform="translate(42.5,418.8) scale(0.3333)"><text x="0" y="0" font-size="12.899999999999999" text-anchor="start" fill="#555" stroke="none" textLength="435.59999999999997" lengthAdjust="spacingAndGlyphs">CPSS Mol - Low (n = 26): 85.7% (95% CI 67.7-100) and 77.2% (95% CI 58.2-100)</text></g>
<g transform="translate(42.5,424.7) scale(0.3333)"><text x="0" y="0" font-size="12.899999999999999" text-anchor="start" fill="#555" stroke="none" textLength="483.90000000000003" lengthAdjust="spacingAndGlyphs">CPSS Mol - Intermediate-1 (n = 70): 85.8% (95% CI 77-95.5) and 53.1% (95% CI 44.6-71.9)</text></g>
<g transform="translate(42.5,430.6) scale(0.3333)"><text x="0" y="0" font-size="12.899999999999999" text-anchor="start" fill="#555" stroke="none" textLength="504.59999999999997" lengthAdjust="spacingAndGlyphs">CPSS Mol - Intermediate-1 (n = 150): 72.4% (95% CI 64.5-81.1) and 43.1% (95% CI 33.7-55.2)</text></g>
<g transform="translate(42.5,436.5) scale(0.3333)"><text x="0" y="0" font-size="12.899999999999999" text-anchor="start" fill="#555" stroke="none" textLength="444.29999999999995" lengthAdjust="spacingAndGlyphs">CPSS Mol - High (n = 113): 47.3% (95% CI 31.3-55.6) and 21.2% (95% CI 12.5-36)</text></g>
<text x="42.0" y="393.7" font-size="6.1" fill="#333" stroke="#333" textLength="38" lengthAdjust="spacingAndGlyphs"><tspan font-style="italic">P</tspan> value: &lt; .001</text>
<text x="32.6" y="473.8" font-size="5.7" text-anchor="start" fill="#333" stroke="#333" textLength="37.2" lengthAdjust="spacingAndGlyphs">Number at risk</text>
<line x1="15.6" y1="481.30" x2="27.1" y2="481.30" stroke="#58b558" stroke-width="1.25"/>
<text x="38.0" y="483.6" font-size="6.2" text-anchor="middle" fill="#333" stroke="#333">26</text>
<text x="63.45" y="483.6" font-size="6.2" text-anchor="middle" fill="#333" stroke="#333">23</text>
<text x="88.9" y="483.6" font-size="6.2" text-anchor="middle" fill="#333" stroke="#333">19</text>
<text x="114.35" y="483.6" font-size="6.2" text-anchor="middle" fill="#333" stroke="#333">13</text>
<text x="139.8" y="483.6" font-size="6.2" text-anchor="middle" fill="#333" stroke="#333">10</text>
<text x="165.25" y="483.6" font-size="6.2" text-anchor="middle" fill="#333" stroke="#333">7</text>
<text x="190.7" y="483.6" font-size="6.2" text-anchor="middle" fill="#333" stroke="#333">3</text>
<text x="216.15" y="483.6" font-size="6.2" text-anchor="middle" fill="#333" stroke="#333">0</text>
<text x="241.6" y="483.6" font-size="6.2" text-anchor="middle" fill="#333" stroke="#333">0</text>
<line x1="15.6" y1="490.93" x2="27.1" y2="490.93" stroke="#2c5089" stroke-width="1.25"/>
<text x="38.0" y="493.23" font-size="6.2" text-anchor="middle" fill="#333" stroke="#333">70</text>
<text x="63.45" y="493.23" font-size="6.2" text-anchor="middle" fill="#333" stroke="#333">47</text>
<text x="88.9" y="493.23" font-size="6.2" text-anchor="middle" fill="#333" stroke="#333">39</text>
<text x="114.35" y="493.23" font-size="6.2" text-anchor="middle" fill="#333" stroke="#333">28</text>
<text x="139.8" y="493.23" font-size="6.2" text-anchor="middle" fill="#333" stroke="#333">19</text>
<text x="165.25" y="493.23" font-size="6.2" text-anchor="middle" fill="#333" stroke="#333">14</text>
<text x="190.7" y="493.23" font-size="6.2" text-anchor="middle" fill="#333" stroke="#333">10</text>
<text x="216.15" y="493.23" font-size="6.2" text-anchor="middle" fill="#333" stroke="#333">5</text>
<text x="241.6" y="493.23" font-size="6.2" text-anchor="middle" fill="#333" stroke="#333">2</text>
<line x1="15.6" y1="500.56" x2="27.1" y2="500.56" stroke="#f3c626" stroke-width="1.25"/>
<text x="38.0" y="502.86" font-size="6.2" text-anchor="middle" fill="#333" stroke="#333">150</text>
<text x="63.45" y="502.86" font-size="6.2" text-anchor="middle" fill="#333" stroke="#333">99</text>
<text x="88.9" y="502.86" font-size="6.2" text-anchor="middle" fill="#333" stroke="#333">68</text>
<text x="114.35" y="502.86" font-size="6.2" text-anchor="middle" fill="#333" stroke="#333">43</text>
<text x="139.8" y="502.86" font-size="6.2" text-anchor="middle" fill="#333" stroke="#333">29</text>
<text x="165.25" y="502.86" font-size="6.2" text-anchor="middle" fill="#333" stroke="#333">23</text>
<text x="190.7" y="502.86" font-size="6.2" text-anchor="middle" fill="#333" stroke="#333">15</text>
<text x="216.15" y="502.86" font-size="6.2" text-anchor="middle" fill="#333" stroke="#333">6</text>
<text x="241.6" y="502.86" font-size="6.2" text-anchor="middle" fill="#333" stroke="#333">2</text>
<line x1="15.6" y1="510.19" x2="27.1" y2="510.19" stroke="#b01e45" stroke-width="1.25"/>
<text x="38.0" y="512.49" font-size="6.2" text-anchor="middle" fill="#333" stroke="#333">113</text>
<text x="63.45" y="512.49" font-size="6.2" text-anchor="middle" fill="#333" stroke="#333">69</text>
<text x="88.9" y="512.49" font-size="6.2" text-anchor="middle" fill="#333" stroke="#333">35</text>
<text x="114.35" y="512.49" font-size="6.2" text-anchor="middle" fill="#333" stroke="#333">19</text>
<text x="139.8" y="512.49" font-size="6.2" text-anchor="middle" fill="#333" stroke="#333">11</text>
<text x="165.25" y="512.49" font-size="6.2" text-anchor="middle" fill="#333" stroke="#333">6</text>
<text x="190.7" y="512.49" font-size="6.2" text-anchor="middle" fill="#333" stroke="#333">4</text>
<text x="216.15" y="512.49" font-size="6.2" text-anchor="middle" fill="#333" stroke="#333">2</text>
<text x="241.6" y="512.49" font-size="6.2" text-anchor="middle" fill="#333" stroke="#333">1</text>
<text x="269.45000000000005" y="259.0" font-size="11.3" text-anchor="start" fill="#111" stroke="#111" font-weight="bold" style="stroke-width:0.35px">D</text>
<line x1="304.6" y1="273.7" x2="304.6" y2="441.7" stroke="#222" stroke-width="1.3"/>
<line x1="304.1" y1="441.2" x2="512.7" y2="441.2" stroke="#222" stroke-width="1.3"/>
<line x1="301.6" y1="441.20" x2="304.6" y2="441.20" stroke="#222" stroke-width="0.9"/>
<line x1="303.1" y1="432.95" x2="304.6" y2="432.95" stroke="#222" stroke-width="0.9"/>
<text x="299.1" y="443.4" font-size="6.3" text-anchor="end" fill="#444" stroke="#444">0.0</text>
<line x1="301.6" y1="424.70" x2="304.6" y2="424.70" stroke="#222" stroke-width="0.9"/>
<line x1="303.1" y1="416.45" x2="304.6" y2="416.45" stroke="#222" stroke-width="0.9"/>
<text x="299.1" y="426.9" font-size="6.3" text-anchor="end" fill="#444" stroke="#444">0.1</text>
<line x1="301.6" y1="408.20" x2="304.6" y2="408.20" stroke="#222" stroke-width="0.9"/>
<line x1="303.1" y1="399.95" x2="304.6" y2="399.95" stroke="#222" stroke-width="0.9"/>
<text x="299.1" y="410.4" font-size="6.3" text-anchor="end" fill="#444" stroke="#444">0.2</text>
<line x1="301.6" y1="391.70" x2="304.6" y2="391.70" stroke="#222" stroke-width="0.9"/>
<line x1="303.1" y1="383.45" x2="304.6" y2="383.45" stroke="#222" stroke-width="0.9"/>
<text x="299.1" y="393.9" font-size="6.3" text-anchor="end" fill="#444" stroke="#444">0.3</text>
<line x1="301.6" y1="375.20" x2="304.6" y2="375.20" stroke="#222" stroke-width="0.9"/>
<line x1="303.1" y1="366.95" x2="304.6" y2="366.95" stroke="#222" stroke-width="0.9"/>
<text x="299.1" y="377.4" font-size="6.3" text-anchor="end" fill="#444" stroke="#444">0.4</text>
<line x1="301.6" y1="358.70" x2="304.6" y2="358.70" stroke="#222" stroke-width="0.9"/>
<line x1="303.1" y1="350.45" x2="304.6" y2="350.45" stroke="#222" stroke-width="0.9"/>
<text x="299.1" y="360.9" font-size="6.3" text-anchor="end" fill="#444" stroke="#444">0.5</text>
<line x1="301.6" y1="342.20" x2="304.6" y2="342.20" stroke="#222" stroke-width="0.9"/>
<line x1="303.1" y1="333.95" x2="304.6" y2="333.95" stroke="#222" stroke-width="0.9"/>
<text x="299.1" y="344.4" font-size="6.3" text-anchor="end" fill="#444" stroke="#444">0.6</text>
<line x1="301.6" y1="325.70" x2="304.6" y2="325.70" stroke="#222" stroke-width="0.9"/>
<line x1="303.1" y1="317.45" x2="304.6" y2="317.45" stroke="#222" stroke-width="0.9"/>
<text x="299.1" y="327.9" font-size="6.3" text-anchor="end" fill="#444" stroke="#444">0.7</text>
<line x1="301.6" y1="309.20" x2="304.6" y2="309.20" stroke="#222" stroke-width="0.9"/>
<line x1="303.1" y1="300.95" x2="304.6" y2="300.95" stroke="#222" stroke-width="0.9"/>
<text x="299.1" y="311.4" font-size="6.3" text-anchor="end" fill="#444" stroke="#444">0.8</text>
<line x1="301.6" y1="292.70" x2="304.6" y2="292.70" stroke="#222" stroke-width="0.9"/>
<line x1="303.1" y1="284.45" x2="304.6" y2="284.45" stroke="#222" stroke-width="0.9"/>
<text x="299.1" y="294.9" font-size="6.3" text-anchor="end" fill="#444" stroke="#444">0.9</text>
<line x1="301.6" y1="276.20" x2="304.6" y2="276.20" stroke="#222" stroke-width="0.9"/>
<text x="299.1" y="278.4" font-size="6.3" text-anchor="end" fill="#444" stroke="#444">1.0</text>
<line x1="304.60" y1="441.2" x2="304.60" y2="444.2" stroke="#222" stroke-width="0.9"/>
<text x="304.6" y="452.2" font-size="6.3" text-anchor="middle" fill="#444" stroke="#444">0</text>
<line x1="311.03" y1="441.2" x2="311.03" y2="442.8" stroke="#222" stroke-width="0.9"/>
<line x1="317.45" y1="441.2" x2="317.45" y2="442.8" stroke="#222" stroke-width="0.9"/>
<line x1="323.88" y1="441.2" x2="323.88" y2="442.8" stroke="#222" stroke-width="0.9"/>
<line x1="330.30" y1="441.2" x2="330.30" y2="444.2" stroke="#222" stroke-width="0.9"/>
<text x="330.3" y="452.2" font-size="6.3" text-anchor="middle" fill="#444" stroke="#444">12</text>
<line x1="336.73" y1="441.2" x2="336.73" y2="442.8" stroke="#222" stroke-width="0.9"/>
<line x1="343.15" y1="441.2" x2="343.15" y2="442.8" stroke="#222" stroke-width="0.9"/>
<line x1="349.58" y1="441.2" x2="349.58" y2="442.8" stroke="#222" stroke-width="0.9"/>
<line x1="356.00" y1="441.2" x2="356.00" y2="444.2" stroke="#222" stroke-width="0.9"/>
<text x="356.0" y="452.2" font-size="6.3" text-anchor="middle" fill="#444" stroke="#444">24</text>
<line x1="362.43" y1="441.2" x2="362.43" y2="442.8" stroke="#222" stroke-width="0.9"/>
<line x1="368.85" y1="441.2" x2="368.85" y2="442.8" stroke="#222" stroke-width="0.9"/>
<line x1="375.27" y1="441.2" x2="375.27" y2="442.8" stroke="#222" stroke-width="0.9"/>
<line x1="381.70" y1="441.2" x2="381.70" y2="444.2" stroke="#222" stroke-width="0.9"/>
<text x="381.7" y="452.2" font-size="6.3" text-anchor="middle" fill="#444" stroke="#444">36</text>
<line x1="388.12" y1="441.2" x2="388.12" y2="442.8" stroke="#222" stroke-width="0.9"/>
<line x1="394.55" y1="441.2" x2="394.55" y2="442.8" stroke="#222" stroke-width="0.9"/>
<line x1="400.98" y1="441.2" x2="400.98" y2="442.8" stroke="#222" stroke-width="0.9"/>
<line x1="407.40" y1="441.2" x2="407.40" y2="444.2" stroke="#222" stroke-width="0.9"/>
<text x="407.4" y="452.2" font-size="6.3" text-anchor="middle" fill="#444" stroke="#444">48</text>
<line x1="413.82" y1="441.2" x2="413.82" y2="442.8" stroke="#222" stroke-width="0.9"/>
<line x1="420.25" y1="441.2" x2="420.25" y2="442.8" stroke="#222" stroke-width="0.9"/>
<line x1="426.68" y1="441.2" x2="426.68" y2="442.8" stroke="#222" stroke-width="0.9"/>
<line x1="433.10" y1="441.2" x2="433.10" y2="444.2" stroke="#222" stroke-width="0.9"/>
<text x="433.1" y="452.2" font-size="6.3" text-anchor="middle" fill="#444" stroke="#444">60</text>
<line x1="439.52" y1="441.2" x2="439.52" y2="442.8" stroke="#222" stroke-width="0.9"/>
<line x1="445.95" y1="441.2" x2="445.95" y2="442.8" stroke="#222" stroke-width="0.9"/>
<line x1="452.38" y1="441.2" x2="452.38" y2="442.8" stroke="#222" stroke-width="0.9"/>
<line x1="458.80" y1="441.2" x2="458.80" y2="444.2" stroke="#222" stroke-width="0.9"/>
<text x="458.8" y="452.2" font-size="6.3" text-anchor="middle" fill="#444" stroke="#444">72</text>
<line x1="465.23" y1="441.2" x2="465.23" y2="442.8" stroke="#222" stroke-width="0.9"/>
<line x1="471.65" y1="441.2" x2="471.65" y2="442.8" stroke="#222" stroke-width="0.9"/>
<line x1="478.07" y1="441.2" x2="478.07" y2="442.8" stroke="#222" stroke-width="0.9"/>
<line x1="484.50" y1="441.2" x2="484.50" y2="444.2" stroke="#222" stroke-width="0.9"/>
<text x="484.5" y="452.2" font-size="6.3" text-anchor="middle" fill="#444" stroke="#444">84</text>
<line x1="490.92" y1="441.2" x2="490.92" y2="442.8" stroke="#222" stroke-width="0.9"/>
<line x1="497.35" y1="441.2" x2="497.35" y2="442.8" stroke="#222" stroke-width="0.9"/>
<line x1="503.77" y1="441.2" x2="503.77" y2="442.8" stroke="#222" stroke-width="0.9"/>
<line x1="510.20" y1="441.2" x2="510.20" y2="444.2" stroke="#222" stroke-width="0.9"/>
<text x="510.2" y="452.2" font-size="6.3" text-anchor="middle" fill="#444" stroke="#444">96</text>
<text x="409.0" y="463.8" font-size="8.0" text-anchor="middle" fill="#2a2a2a" stroke="#2a2a2a" font-weight="bold" textLength="17.6" lengthAdjust="spacingAndGlyphs">Months</text>
<text transform="translate(285.9,358.0) rotate(-90)" font-size="7.6" text-anchor="middle" fill="#333" stroke="#333" style="stroke-width:0.3px" textLength="51.5" lengthAdjust="spacingAndGlyphs">Cumulative incidence</text>
<text x="311.0" y="281.8" font-size="6.5" text-anchor="start" fill="#333" stroke="#333" textLength="22.8" lengthAdjust="spacingAndGlyphs">CI Death</text>
<text x="311.0" y="290.4" font-size="6.5" fill="#333" stroke="#333" textLength="179" lengthAdjust="spacingAndGlyphs">CI 2 and 5 years (<tspan font-style="italic">dn</tspan>CMML = 461): 19.8% (+/-4) and 32.7% (+/-5)</text>
<text x="311.0" y="298.3" font-size="6.5" fill="#333" stroke="#333" textLength="186.5" lengthAdjust="spacingAndGlyphs">CI 2 and 5 years (tCMML = 71): 27.6% (+/-11.4) and 42.7% (+/-14.3)</text>
<text x="311.0" y="318.3" font-size="6.5" text-anchor="start" fill="#333" stroke="#333" textLength="35.3" lengthAdjust="spacingAndGlyphs">CI AML transf</text>
<text x="311.0" y="327.6" font-size="6.5" fill="#333" stroke="#333" textLength="187.7" lengthAdjust="spacingAndGlyphs">CI 2 and 5 years (<tspan font-style="italic">dn</tspan>CMML = 461): 23.7% (+/-4.2) and 37.3% (+/-5.2)</text>
<text x="311.0" y="335.1" font-size="6.5" fill="#333" stroke="#333" textLength="187.7" lengthAdjust="spacingAndGlyphs">CI 2 and 5 years (tCMML = 71): 18.7% (+/-10.2) and 28.5% (+/-12.8)</text>
<text x="311.0" y="306.2" font-size="6.5" fill="#333" stroke="#333" textLength="48.4" lengthAdjust="spacingAndGlyphs"><tspan font-style="italic">P</tspan>-val: .047 (Death)</text>
<text x="311.0" y="343.1" font-size="6.5" fill="#333" stroke="#333" textLength="61.9" lengthAdjust="spacingAndGlyphs"><tspan font-style="italic">P</tspan>-val: .086 (AML transf.)</text>
<path d="M304.6,441.2 H310.5 V434 H311.4 V428 H313.5 V418 H318.5 V415.5 H323.8 V413 H330.7 V407 H332.5 V405 H339 V401.5 H342.5 V398.8 H350.6 V395.7 H364.3 V389 H383.5 V381 H403.5 V375.5 H413.5 V370.5 H435.4 V362.7 H474.1 V343 H510.6" fill="none" stroke="#62a862" stroke-width="1.4" stroke-dasharray="3.6,4.3"/>
<path d="M304.6,441.2 H311 V436 H316.5 V433 H320.5 V428.3 H329 V426 H336 V424 H340 V422.2 H342.5 V416 H358 V410.2 H364.5 V407 H382 V400.5 H386 V398.8 H397.5 V394.2 H510.6" fill="none" stroke="#283f6a" stroke-width="1.4" stroke-dasharray="3.6,4.3"/>
<path d="M304.60,441.20 H307.30 V439.98 H310.00 V438.75 H311.56 V437.50 H313.12 V436.25 H314.69 V435.00 H316.25 V433.75 H320.00 V432.80 H322.40 V431.35 H324.80 V429.90 H327.20 V428.45 H329.60 V427.00 H332.00 V425.80 H334.40 V424.60 H336.00 V423.48 H337.60 V422.37 H339.20 V421.25 H340.18 V420.16 H341.15 V419.07 H342.12 V417.99 H343.10 V416.90 H344.70 V415.80 H346.30 V414.70 H347.90 V413.60 H349.50 V412.47 H351.10 V411.33 H352.70 V410.20 H354.30 V408.90 H355.90 V407.60 H357.50 V406.30 H359.10 V405.03 H360.70 V403.77 H362.30 V402.50 H364.23 V401.43 H366.15 V400.35 H368.07 V399.27 H370.00 V398.20 H372.30 V396.90 H380.00 V396.20 H386.20 V395.40 H393.80 V393.80 H397.65 V392.30 H401.50 V390.80 H409.20 V389.20 H420.00 V388.50 H426.50 V387.10 H437.60 V386.40 H440.00 V385.50 H442.90 V384.05 H445.80 V382.60 H454.40 V381.20 H464.50 V379.70 H468.90 V378.30 H476.00 V377.10 H487.60 V376.10 H490.50 V375.05 H493.40 V374.00 H503.50 V373.20 H510.20 V372.80" fill="none" stroke="#55b04f" stroke-width="1.25" stroke-linejoin="round"/>
<path d="M304.60,441.20 H308.75 V440.60 H309.69 V439.51 H310.62 V438.43 H311.56 V437.34 H312.50 V436.25 H313.27 V435.00 H314.05 V433.75 H314.83 V432.50 H315.60 V431.25 H316.43 V430.00 H317.27 V428.75 H318.10 V427.50 H320.00 V426.10 H320.97 V424.97 H321.93 V423.83 H322.90 V422.70 H324.35 V421.25 H325.80 V419.80 H327.70 V418.60 H329.60 V417.40 H330.90 V416.20 H332.20 V415.00 H333.50 V413.80 H337.30 V413.10 H339.25 V412.15 H341.20 V411.20 H343.10 V409.98 H345.00 V408.75 H346.90 V407.52 H348.80 V406.30 H350.75 V405.10 H352.70 V403.90 H354.60 V402.95 H356.50 V402.00 H360.40 V400.60 H364.20 V399.10 H367.10 V397.68 H370.00 V396.25 H375.40 V394.60 H377.43 V393.33 H379.47 V392.07 H381.50 V390.80 H384.07 V389.50 H386.63 V388.20 H389.20 V386.90 H391.77 V385.87 H394.33 V384.83 H396.90 V383.80 H406.20 V382.30 H413.30 V382.00 H419.90 V380.90 H426.50 V379.80 H438.70 V378.70 H440.00 V377.60 H447.20 V376.50 H454.40 V375.40 H455.15 V374.30 H455.90 V373.20 H459.45 V372.10 H463.00 V371.00 H476.00 V370.40 H487.60 V368.90 H489.00 V367.50 H497.70 V366.00 H499.20 V364.30 H505.00 V363.10 H510.20 V362.70" fill="none" stroke="#1d4a86" stroke-width="1.3" stroke-linejoin="round"/>
<line x1="412.1" y1="414.5" x2="424" y2="414.5" stroke="#55b04f" stroke-width="1.6"/>
<line x1="412.1" y1="424.3" x2="424" y2="424.3" stroke="#1d4a86" stroke-width="1.6"/>
<text x="426.9" y="416.8" font-size="5.7" text-anchor="start" fill="#333" stroke="#333" textLength="14.8" lengthAdjust="spacingAndGlyphs">Death</text>
<text x="426.9" y="426.4" font-size="5.7" text-anchor="start" fill="#333" stroke="#333" textLength="28.3" lengthAdjust="spacingAndGlyphs">AML transf.</text>
<line x1="465.2" y1="415.2" x2="476.1" y2="415.2" stroke="#2a2a2a" stroke-width="1.8"/>
<line x1="465.2" y1="424.8" x2="476.1" y2="424.8" stroke="#2a2a2a" stroke-width="1.4" stroke-dasharray="1.6,2.4,2.8,2.4,2.8"/>
<text x="479.8" y="416.8" font-size="5.9" text-anchor="start" fill="#333" stroke="#333" textLength="24.0" lengthAdjust="spacingAndGlyphs">dnCMML</text>
<text x="479.8" y="426.4" font-size="5.9" text-anchor="start" fill="#333" stroke="#333" textLength="19.4" lengthAdjust="spacingAndGlyphs">tCMML</text>
<text x="299.2" y="473.8" font-size="5.7" text-anchor="start" fill="#333" stroke="#333" textLength="37.2" lengthAdjust="spacingAndGlyphs">Number at risk</text>
<text x="293.3" y="483.6" font-size="5.9" text-anchor="end" fill="#333" stroke="#333" textLength="23.7" lengthAdjust="spacingAndGlyphs">dnCMML</text>
<text x="293.3" y="492.9" font-size="5.9" text-anchor="end" fill="#333" stroke="#333" textLength="18.5" lengthAdjust="spacingAndGlyphs">tCMML</text>
<text x="304.6" y="483.6" font-size="6.0" text-anchor="middle" fill="#333" stroke="#333">461</text>
<text x="304.6" y="493.2" font-size="6.0" text-anchor="middle" fill="#333" stroke="#333">71</text>
<text x="317.45" y="483.6" font-size="6.0" text-anchor="middle" fill="#333" stroke="#333">360</text>
<text x="317.45" y="493.2" font-size="6.0" text-anchor="middle" fill="#333" stroke="#333">51</text>
<text x="330.3" y="483.6" font-size="6.0" text-anchor="middle" fill="#333" stroke="#333">297</text>
<text x="330.3" y="493.2" font-size="6.0" text-anchor="middle" fill="#333" stroke="#333">44</text>
<text x="343.15" y="483.6" font-size="6.0" text-anchor="middle" fill="#333" stroke="#333">242</text>
<text x="343.15" y="493.2" font-size="6.0" text-anchor="middle" fill="#333" stroke="#333">33</text>
<text x="356.0" y="483.6" font-size="6.0" text-anchor="middle" fill="#333" stroke="#333">197</text>
<text x="356.0" y="493.2" font-size="6.0" text-anchor="middle" fill="#333" stroke="#333">28</text>
<text x="368.85" y="483.6" font-size="6.0" text-anchor="middle" fill="#333" stroke="#333">156</text>
<text x="368.85" y="493.2" font-size="6.0" text-anchor="middle" fill="#333" stroke="#333">23</text>
<text x="381.7" y="483.6" font-size="6.0" text-anchor="middle" fill="#333" stroke="#333">125</text>
<text x="381.7" y="493.2" font-size="6.0" text-anchor="middle" fill="#333" stroke="#333">18</text>
<text x="394.55" y="483.6" font-size="6.0" text-anchor="middle" fill="#333" stroke="#333">103</text>
<text x="394.55" y="493.2" font-size="6.0" text-anchor="middle" fill="#333" stroke="#333">15</text>
<text x="407.4" y="483.6" font-size="6.0" text-anchor="middle" fill="#333" stroke="#333">85</text>
<text x="407.4" y="493.2" font-size="6.0" text-anchor="middle" fill="#333" stroke="#333">11</text>
<text x="420.25" y="483.6" font-size="6.0" text-anchor="middle" fill="#333" stroke="#333">76</text>
<text x="420.25" y="493.2" font-size="6.0" text-anchor="middle" fill="#333" stroke="#333">9</text>
<text x="433.1" y="483.6" font-size="6.0" text-anchor="middle" fill="#333" stroke="#333">67</text>
<text x="433.1" y="493.2" font-size="6.0" text-anchor="middle" fill="#333" stroke="#333">7</text>
<text x="445.95" y="483.6" font-size="6.0" text-anchor="middle" fill="#333" stroke="#333">53</text>
<text x="445.95" y="493.2" font-size="6.0" text-anchor="middle" fill="#333" stroke="#333">4</text>
<text x="458.8" y="483.6" font-size="6.0" text-anchor="middle" fill="#333" stroke="#333">42</text>
<text x="458.8" y="493.2" font-size="6.0" text-anchor="middle" fill="#333" stroke="#333">4</text>
<text x="471.65" y="483.6" font-size="6.0" text-anchor="middle" fill="#333" stroke="#333">28</text>
<text x="471.65" y="493.2" font-size="6.0" text-anchor="middle" fill="#333" stroke="#333">4</text>
<text x="484.5" y="483.6" font-size="6.0" text-anchor="middle" fill="#333" stroke="#333">22</text>
<text x="484.5" y="493.2" font-size="6.0" text-anchor="middle" fill="#333" stroke="#333">2</text>
<text x="497.35" y="483.6" font-size="6.0" text-anchor="middle" fill="#333" stroke="#333">16</text>
<text x="497.35" y="493.2" font-size="6.0" text-anchor="middle" fill="#333" stroke="#333">2</text>
<text x="510.2" y="483.6" font-size="6.0" text-anchor="middle" fill="#333" stroke="#333">13</text>
<text x="510.2" y="493.2" font-size="6.0" text-anchor="middle" fill="#333" stroke="#333">1</text>
<rect x="0.5" y="0.5" width="519" height="519" fill="none" stroke="#4a4a4a" stroke-width="1"/>
</svg></body></html>
